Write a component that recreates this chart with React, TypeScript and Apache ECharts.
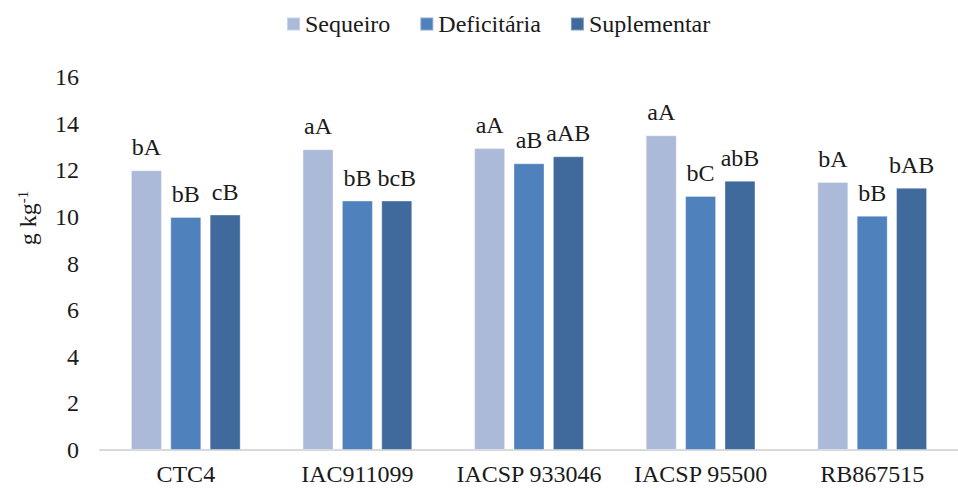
import React, { useEffect, useRef } from "react";
import * as echarts from "echarts";

const categories = ["CTC4", "IAC911099", "IACSP 933046", "IACSP 95500", "RB867515"];
const seriesNames = ["Sequeiro", "Deficitária", "Suplementar"];
const sequeiro = [12.0, 12.9, 12.95, 13.5, 11.5];
const deficitaria = [10.0, 10.7, 12.3, 10.9, 10.05];
const suplementar = [10.1, 10.7, 12.6, 11.55, 11.25];
const sequeiroLetters = ["bA", "aA", "aA", "aA", "bA"];
const deficitariaLetters = ["bB", "bB", "aB", "bC", "bB"];
const suplementarLetters = ["cB", "bcB", "aAB", "abB", "bAB"];
const colors = ["#ABBAD8", "#4F81BD", "#3F6A9B"];

const FONT = "Liberation Serif";
const FS = 24;
const TXT = "#1a1a1a";

export default function App() {
  const ref = useRef<HTMLDivElement>(null);
  useEffect(() => {
    if (!ref.current) return;
    const chart = echarts.init(ref.current, undefined, { renderer: "svg" });
    const values = [sequeiro, deficitaria, suplementar];
    const letters = [sequeiroLetters, deficitariaLetters, suplementarLetters];
    chart.setOption({
      animation: false,
      backgroundColor: "#ffffff",
      legend: {
        left: 281,
        top: 7,
        itemWidth: 13,
        itemHeight: 13,
        itemGap: 29,
        icon: "rect",
        textStyle: { fontFamily: FONT, fontSize: FS, color: TXT },
        data: seriesNames,
      },
      grid: { left: 100, right: -24, top: 77, bottom: 40, containLabel: false },
      xAxis: {
        type: "category",
        data: categories,
        axisLine: { lineStyle: { color: "#D9D9D9", width: 2 } },
        axisTick: { show: false },
        axisLabel: { fontFamily: FONT, fontSize: FS, color: TXT, margin: 12, interval: 0 },
      },
      yAxis: {
        type: "value",
        min: 0,
        max: 16,
        interval: 2,
        axisLine: { show: false },
        axisTick: { show: false },
        splitLine: { show: false },
        axisLabel: { fontFamily: FONT, fontSize: FS, color: TXT, margin: 21 },
      },
      graphic: [
        {
          type: "text",
          x: 28,
          y: 218,
          rotation: Math.PI / 2,
          style: {
            text: "{a|g kg}{b|-1}",
            fill: TXT,
            align: "center",
            verticalAlign: "middle",
            rich: {
              a: { fontFamily: FONT, fontSize: FS, fill: TXT },
              b: { fontFamily: FONT, fontSize: 15, fill: TXT, verticalAlign: "top", padding: [0, 0, 10, 0] },
            },
          },
        },
      ],
      series: seriesNames.map((name, i) => ({
        name,
        type: "bar",
        barWidth: 31,
        barGap: "27%",
        itemStyle: { color: colors[i], borderColor: "rgba(255,255,255,0.35)", borderWidth: 1 },
        label: {
          show: true,
          position: "top",
          distance: 11,
          fontFamily: FONT,
          fontSize: FS,
          color: TXT,
          formatter: (p: any) => letters[i][p.dataIndex],
        },
        data: values[i],
      })),
    });
    return () => chart.dispose();
  }, []);
  return <div ref={ref} style={{ position: "fixed", left: 0, top: 0, width: 958, height: 490 }} />;
}
